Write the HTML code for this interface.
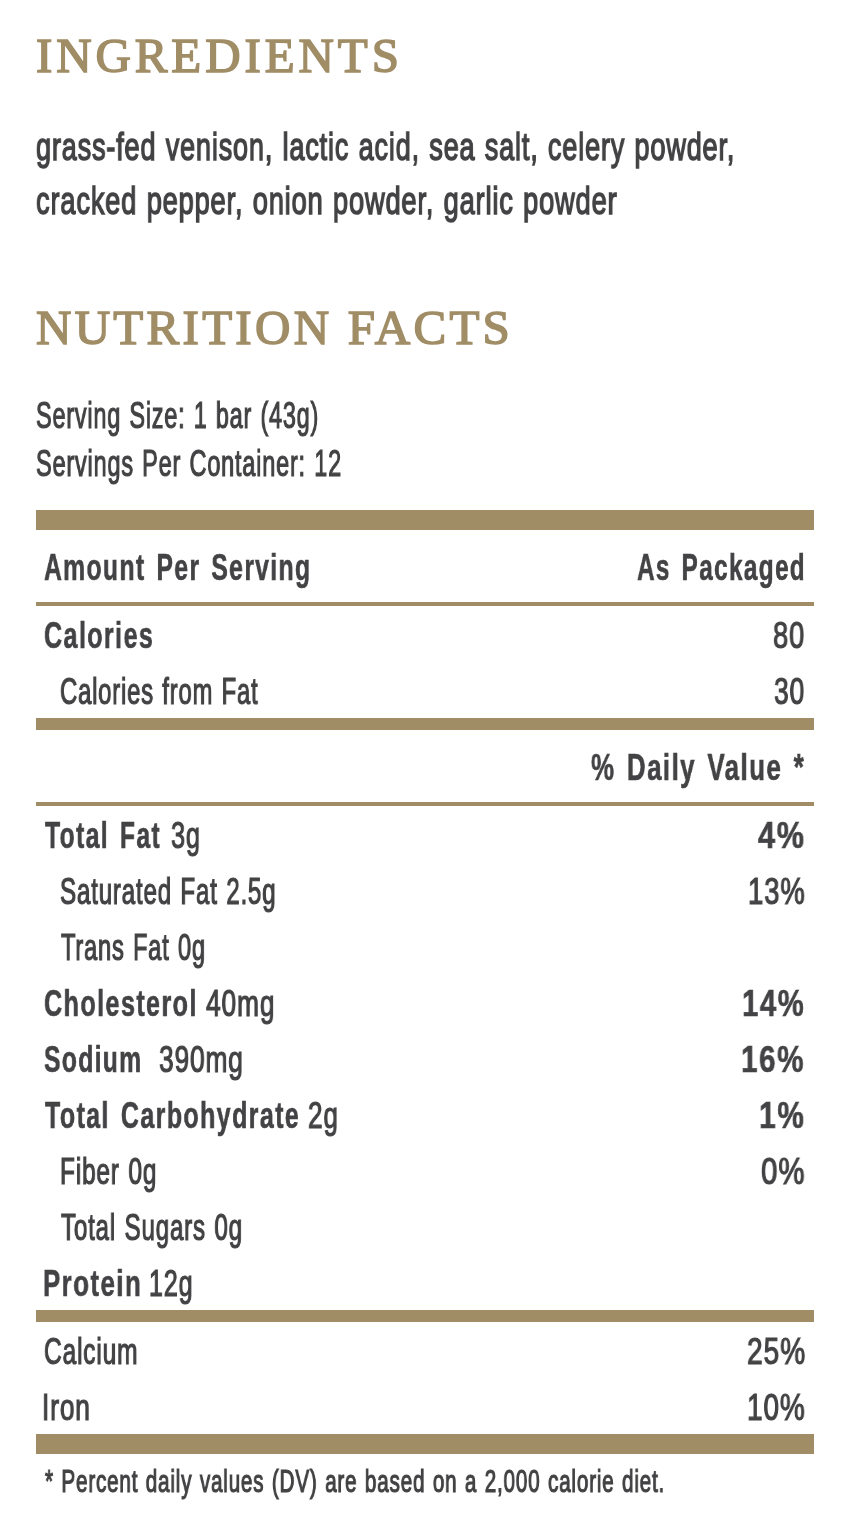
<!DOCTYPE html>
<html><head><meta charset="utf-8"><title>Nutrition Facts</title>
<style>
html,body{margin:0;padding:0;background:#fff;}
body{width:854px;height:1518px;position:relative;overflow:hidden;}
.t{position:absolute;line-height:1;white-space:pre;transform-origin:0 0;will-change:transform;}
.b{position:absolute;left:36px;width:778px;background:#a08d66;}
</style></head><body>

<div class="b" style="top:510px;height:20px"></div>
<div class="b" style="top:602px;height:4px"></div>
<div class="b" style="top:718px;height:12px"></div>
<div class="b" style="top:802px;height:4px"></div>
<div class="b" style="top:1310px;height:12px"></div>
<div class="b" style="top:1434px;height:20px"></div>
<div class="t" style="left:36.00px;top:31.00px;font-family:&quot;Liberation Serif&quot;, serif;font-weight:400;font-size:49px;color:#a08d66;-webkit-text-stroke:1.5px currentColor;letter-spacing:3.900px;">INGREDIENTS</div>
<div class="t" style="left:36.31px;top:127.00px;font-family:&quot;Liberation Sans&quot;, sans-serif;font-weight:400;font-size:39.5px;color:#434345;transform:scaleX(0.6857);-webkit-text-stroke:1.5px currentColor;letter-spacing:1.2px;word-spacing:1.5px;">grass-fed venison, lactic acid, sea salt, celery powder,</div>
<div class="t" style="left:36.31px;top:181.00px;font-family:&quot;Liberation Sans&quot;, sans-serif;font-weight:400;font-size:39.5px;color:#434345;transform:scaleX(0.6897);-webkit-text-stroke:1.5px currentColor;letter-spacing:1.2px;word-spacing:1.5px;">cracked pepper, onion powder, garlic powder</div>
<div class="t" style="left:36.00px;top:303.00px;font-family:&quot;Liberation Serif&quot;, serif;font-weight:400;font-size:49px;color:#a08d66;-webkit-text-stroke:1.5px currentColor;letter-spacing:3.286px;">NUTRITION FACTS</div>
<div class="t" style="left:36.35px;top:398.00px;font-family:&quot;Liberation Sans&quot;, sans-serif;font-weight:400;font-size:36px;color:#434345;transform:scaleX(0.6520);-webkit-text-stroke:1.2px currentColor;letter-spacing:1.2px;word-spacing:1.5px;">Serving Size: 1 bar (43g)</div>
<div class="t" style="left:36.35px;top:446.00px;font-family:&quot;Liberation Sans&quot;, sans-serif;font-weight:400;font-size:36px;color:#434345;transform:scaleX(0.6538);-webkit-text-stroke:1.2px currentColor;letter-spacing:1.2px;word-spacing:1.5px;">Servings Per Container: 12</div>
<div class="t" style="left:43.72px;top:550.00px;font-family:&quot;Liberation Sans&quot;, sans-serif;font-weight:700;font-size:36.5px;color:#434345;transform:scaleX(0.6772);-webkit-text-stroke:0.6px currentColor;letter-spacing:2px;word-spacing:4px;">Amount Per Serving</div>
<div class="t" style="left:637.33px;top:550.00px;font-family:&quot;Liberation Sans&quot;, sans-serif;font-weight:700;font-size:36.5px;color:#434345;transform:scaleX(0.6673);-webkit-text-stroke:0.6px currentColor;letter-spacing:2px;word-spacing:4px;">As Packaged</div>
<div class="t" style="left:44.21px;top:618.00px;font-family:&quot;Liberation Sans&quot;, sans-serif;font-weight:700;font-size:36.5px;color:#434345;transform:scaleX(0.6885);-webkit-text-stroke:0.6px currentColor;letter-spacing:2px;word-spacing:4px;">Calories</div>
<div class="t" style="left:773.24px;top:618.00px;font-family:&quot;Liberation Sans&quot;, sans-serif;font-weight:400;font-size:36px;color:#434345;transform:scaleX(0.7575);-webkit-text-stroke:1.2px currentColor;letter-spacing:1.2px;word-spacing:1.5px;">80</div>
<div class="t" style="left:60.34px;top:674.00px;font-family:&quot;Liberation Sans&quot;, sans-serif;font-weight:400;font-size:36px;color:#434345;transform:scaleX(0.6628);-webkit-text-stroke:1.2px currentColor;letter-spacing:1.2px;word-spacing:1.5px;">Calories from Fat</div>
<div class="t" style="left:774.27px;top:674.00px;font-family:&quot;Liberation Sans&quot;, sans-serif;font-weight:400;font-size:36px;color:#434345;transform:scaleX(0.7325);-webkit-text-stroke:1.2px currentColor;letter-spacing:1.2px;word-spacing:1.5px;">30</div>
<div class="t" style="left:591.00px;top:750.00px;font-family:&quot;Liberation Sans&quot;, sans-serif;font-weight:700;font-size:36.5px;color:#434345;transform:scaleX(0.7100);-webkit-text-stroke:0.6px currentColor;letter-spacing:2px;word-spacing:4px;">% Daily Value *</div>
<div class="t" style="left:44.90px;top:818.00px;font-family:&quot;Liberation Sans&quot;, sans-serif;font-weight:700;font-size:36.5px;color:#434345;transform:scaleX(0.6771);-webkit-text-stroke:0.6px currentColor;letter-spacing:2px;word-spacing:4px;">Total Fat</div>
<div class="t" style="left:170.70px;top:818.00px;font-family:&quot;Liberation Sans&quot;, sans-serif;font-weight:400;font-size:36px;color:#434345;transform:scaleX(0.7026);-webkit-text-stroke:1.2px currentColor;letter-spacing:1.2px;word-spacing:1.5px;">3g</div>
<div class="t" style="left:758.40px;top:818.00px;font-family:&quot;Liberation Sans&quot;, sans-serif;font-weight:700;font-size:36.5px;color:#434345;transform:scaleX(0.8407);-webkit-text-stroke:0.6px currentColor;letter-spacing:2px;word-spacing:4px;">4%</div>
<div class="t" style="left:59.93px;top:874.00px;font-family:&quot;Liberation Sans&quot;, sans-serif;font-weight:400;font-size:36px;color:#434345;transform:scaleX(0.6705);-webkit-text-stroke:1.2px currentColor;letter-spacing:1.2px;word-spacing:1.5px;">Saturated Fat 2.5g</div>
<div class="t" style="left:748.18px;top:874.00px;font-family:&quot;Liberation Sans&quot;, sans-serif;font-weight:400;font-size:36px;color:#434345;transform:scaleX(0.7611);-webkit-text-stroke:1.2px currentColor;letter-spacing:1.2px;word-spacing:1.5px;">13%</div>
<div class="t" style="left:60.60px;top:930.00px;font-family:&quot;Liberation Sans&quot;, sans-serif;font-weight:400;font-size:36px;color:#434345;transform:scaleX(0.6578);-webkit-text-stroke:1.2px currentColor;letter-spacing:1.2px;word-spacing:1.5px;">Trans Fat 0g</div>
<div class="t" style="left:44.21px;top:986.00px;font-family:&quot;Liberation Sans&quot;, sans-serif;font-weight:700;font-size:36.5px;color:#434345;transform:scaleX(0.6899);-webkit-text-stroke:0.6px currentColor;letter-spacing:2px;word-spacing:4px;">Cholesterol</div>
<div class="t" style="left:205.80px;top:986.00px;font-family:&quot;Liberation Sans&quot;, sans-serif;font-weight:400;font-size:36px;color:#434345;transform:scaleX(0.7304);-webkit-text-stroke:1.2px currentColor;letter-spacing:1.2px;word-spacing:1.5px;">40mg</div>
<div class="t" style="left:741.99px;top:986.00px;font-family:&quot;Liberation Sans&quot;, sans-serif;font-weight:700;font-size:36.5px;color:#434345;transform:scaleX(0.8027);-webkit-text-stroke:0.6px currentColor;letter-spacing:2px;word-spacing:4px;">14%</div>
<div class="t" style="left:44.22px;top:1042.00px;font-family:&quot;Liberation Sans&quot;, sans-serif;font-weight:700;font-size:36.5px;color:#434345;transform:scaleX(0.6759);-webkit-text-stroke:0.6px currentColor;letter-spacing:2px;word-spacing:4px;">Sodium</div>
<div class="t" style="left:159.27px;top:1042.00px;font-family:&quot;Liberation Sans&quot;, sans-serif;font-weight:400;font-size:36px;color:#434345;transform:scaleX(0.7304);-webkit-text-stroke:1.2px currentColor;letter-spacing:1.2px;word-spacing:1.5px;">390mg</div>
<div class="t" style="left:741.18px;top:1042.00px;font-family:&quot;Liberation Sans&quot;, sans-serif;font-weight:700;font-size:36.5px;color:#434345;transform:scaleX(0.8120);-webkit-text-stroke:0.6px currentColor;letter-spacing:2px;word-spacing:4px;">16%</div>
<div class="t" style="left:44.90px;top:1098.00px;font-family:&quot;Liberation Sans&quot;, sans-serif;font-weight:700;font-size:36.5px;color:#434345;transform:scaleX(0.6859);-webkit-text-stroke:0.6px currentColor;letter-spacing:2px;word-spacing:4px;">Total Carbohydrate</div>
<div class="t" style="left:308.27px;top:1098.00px;font-family:&quot;Liberation Sans&quot;, sans-serif;font-weight:400;font-size:36px;color:#434345;transform:scaleX(0.7256);-webkit-text-stroke:1.2px currentColor;letter-spacing:1.2px;word-spacing:1.5px;">2g</div>
<div class="t" style="left:759.36px;top:1098.00px;font-family:&quot;Liberation Sans&quot;, sans-serif;font-weight:700;font-size:36.5px;color:#434345;transform:scaleX(0.8212);-webkit-text-stroke:0.6px currentColor;letter-spacing:2px;word-spacing:4px;">1%</div>
<div class="t" style="left:60.04px;top:1154.00px;font-family:&quot;Liberation Sans&quot;, sans-serif;font-weight:400;font-size:36px;color:#434345;transform:scaleX(0.6791);-webkit-text-stroke:1.2px currentColor;letter-spacing:1.2px;word-spacing:1.5px;">Fiber 0g</div>
<div class="t" style="left:761.18px;top:1154.00px;font-family:&quot;Liberation Sans&quot;, sans-serif;font-weight:400;font-size:36px;color:#434345;transform:scaleX(0.8173);-webkit-text-stroke:1.2px currentColor;letter-spacing:1.2px;word-spacing:1.5px;">0%</div>
<div class="t" style="left:61.40px;top:1210.00px;font-family:&quot;Liberation Sans&quot;, sans-serif;font-weight:400;font-size:36px;color:#434345;transform:scaleX(0.6706);-webkit-text-stroke:1.2px currentColor;letter-spacing:1.2px;word-spacing:1.5px;">Total Sugars 0g</div>
<div class="t" style="left:43.48px;top:1266.00px;font-family:&quot;Liberation Sans&quot;, sans-serif;font-weight:700;font-size:36.5px;color:#434345;transform:scaleX(0.7097);-webkit-text-stroke:0.6px currentColor;letter-spacing:2px;word-spacing:4px;">Protein</div>
<div class="t" style="left:148.91px;top:1266.00px;font-family:&quot;Liberation Sans&quot;, sans-serif;font-weight:400;font-size:36px;color:#434345;transform:scaleX(0.6966);-webkit-text-stroke:1.2px currentColor;letter-spacing:1.2px;word-spacing:1.5px;">12g</div>
<div class="t" style="left:43.82px;top:1334.00px;font-family:&quot;Liberation Sans&quot;, sans-serif;font-weight:400;font-size:36px;color:#434345;transform:scaleX(0.6815);-webkit-text-stroke:1.2px currentColor;letter-spacing:1.2px;word-spacing:1.5px;">Calcium</div>
<div class="t" style="left:746.72px;top:1334.00px;font-family:&quot;Liberation Sans&quot;, sans-serif;font-weight:400;font-size:36px;color:#434345;transform:scaleX(0.7808);-webkit-text-stroke:1.2px currentColor;letter-spacing:1.2px;word-spacing:1.5px;">25%</div>
<div class="t" style="left:42.31px;top:1390.00px;font-family:&quot;Liberation Sans&quot;, sans-serif;font-weight:400;font-size:36px;color:#434345;transform:scaleX(0.7295);-webkit-text-stroke:1.2px currentColor;letter-spacing:1.2px;word-spacing:1.5px;">Iron</div>
<div class="t" style="left:747.15px;top:1390.00px;font-family:&quot;Liberation Sans&quot;, sans-serif;font-weight:400;font-size:36px;color:#434345;transform:scaleX(0.7750);-webkit-text-stroke:1.2px currentColor;letter-spacing:1.2px;word-spacing:1.5px;">10%</div>
<div class="t" style="left:45.00px;top:1465.50px;font-family:&quot;Liberation Sans&quot;, sans-serif;font-weight:400;font-size:31px;color:#434345;transform:scaleX(0.6667);-webkit-text-stroke:1.2px currentColor;letter-spacing:1.2px;word-spacing:1.5px;">* Percent daily values (DV) are based on a 2,000 calorie diet.</div>
</body></html>
